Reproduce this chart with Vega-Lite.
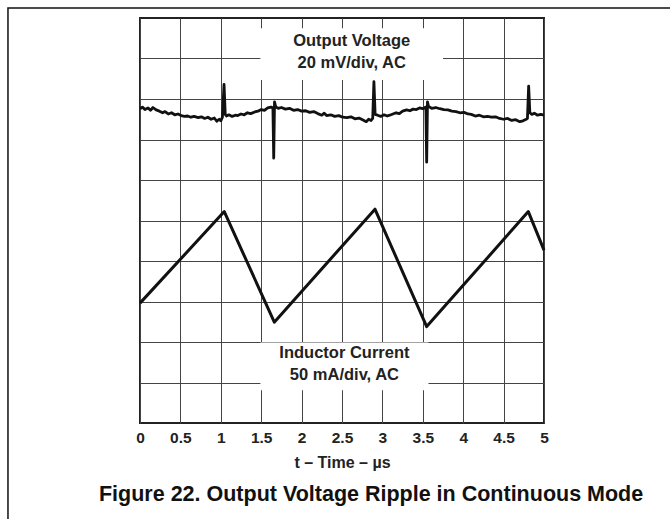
{
  "$schema": "https://vega.github.io/schema/vega-lite/v6.json",
  "width": 404,
  "height": 405,
  "autosize": {"type": "none"},
  "padding": {"left": 140, "top": 18, "right": 126, "bottom": 96},
  "background": "white",
  "config": {
    "font": "Liberation Sans",
    "view": {"stroke": "#222", "strokeWidth": 2}
  },
  "datasets": {
    "frame": [{"t": -1.634, "t2": 7, "v": 10.25, "v2": -3}],
    "caption": [{"t": 2.86, "v": -1.78, "label": "Figure 22. Output Voltage Ripple in Continuous Mode"}],
    "boxes": [
      {"t": 1.49, "t2": 3.75, "v": 8.47, "v2": 9.75},
      {"t": 1.49, "t2": 3.57, "v": 0.81, "v2": 1.99}
    ],
    "labels": [
      {"t": 2.62, "v": 9.43, "label": "Output Voltage"},
      {"t": 2.62, "v": 8.9, "label": "20 mV/div, AC"},
      {"t": 2.53, "v": 1.73, "label": "Inductor Current"},
      {"t": 2.53, "v": 1.19, "label": "50 mA/div, AC"}
    ],
    "voltage": [
      {"t": 0.0, "v": 7.76}, {"t": 0.03, "v": 7.8}, {"t": 0.06, "v": 7.74}, {"t": 0.1, "v": 7.78},
      {"t": 0.13, "v": 7.72}, {"t": 0.16, "v": 7.79}, {"t": 0.2, "v": 7.73}, {"t": 0.24, "v": 7.7},
      {"t": 0.28, "v": 7.66}, {"t": 0.31, "v": 7.69}, {"t": 0.35, "v": 7.63}, {"t": 0.39, "v": 7.66},
      {"t": 0.43, "v": 7.61}, {"t": 0.47, "v": 7.63}, {"t": 0.51, "v": 7.59}, {"t": 0.55, "v": 7.57},
      {"t": 0.59, "v": 7.58}, {"t": 0.63, "v": 7.55}, {"t": 0.67, "v": 7.57}, {"t": 0.72, "v": 7.54},
      {"t": 0.76, "v": 7.56}, {"t": 0.8, "v": 7.52}, {"t": 0.84, "v": 7.55}, {"t": 0.88, "v": 7.5},
      {"t": 0.92, "v": 7.53}, {"t": 0.95, "v": 7.45}, {"t": 0.98, "v": 7.5}, {"t": 1.0, "v": 7.46},
      {"t": 1.02, "v": 7.55}, {"t": 1.04, "v": 8.36}, {"t": 1.055, "v": 7.62}, {"t": 1.07, "v": 7.58},
      {"t": 1.1, "v": 7.61}, {"t": 1.14, "v": 7.57}, {"t": 1.18, "v": 7.6}, {"t": 1.21, "v": 7.59},
      {"t": 1.25, "v": 7.63}, {"t": 1.29, "v": 7.61}, {"t": 1.33, "v": 7.66}, {"t": 1.37, "v": 7.64},
      {"t": 1.42, "v": 7.68}, {"t": 1.46, "v": 7.7}, {"t": 1.5, "v": 7.74}, {"t": 1.54, "v": 7.72},
      {"t": 1.58, "v": 7.78}, {"t": 1.62, "v": 7.8}, {"t": 1.645, "v": 7.78}, {"t": 1.655, "v": 6.54},
      {"t": 1.665, "v": 7.93}, {"t": 1.68, "v": 7.8}, {"t": 1.71, "v": 7.77}, {"t": 1.75, "v": 7.79},
      {"t": 1.8, "v": 7.75}, {"t": 1.85, "v": 7.77}, {"t": 1.9, "v": 7.72}, {"t": 1.95, "v": 7.74},
      {"t": 2.0, "v": 7.7}, {"t": 2.05, "v": 7.71}, {"t": 2.1, "v": 7.67}, {"t": 2.15, "v": 7.69},
      {"t": 2.2, "v": 7.64}, {"t": 2.25, "v": 7.6}, {"t": 2.28, "v": 7.65}, {"t": 2.31, "v": 7.59},
      {"t": 2.36, "v": 7.61}, {"t": 2.41, "v": 7.57}, {"t": 2.46, "v": 7.59}, {"t": 2.51, "v": 7.55},
      {"t": 2.56, "v": 7.54}, {"t": 2.61, "v": 7.56}, {"t": 2.66, "v": 7.51}, {"t": 2.71, "v": 7.53},
      {"t": 2.76, "v": 7.48}, {"t": 2.8, "v": 7.44}, {"t": 2.83, "v": 7.5}, {"t": 2.86, "v": 7.47},
      {"t": 2.88, "v": 7.52}, {"t": 2.895, "v": 8.43}, {"t": 2.91, "v": 7.62}, {"t": 2.94, "v": 7.6},
      {"t": 2.98, "v": 7.57}, {"t": 3.02, "v": 7.61}, {"t": 3.06, "v": 7.58}, {"t": 3.09, "v": 7.6},
      {"t": 3.13, "v": 7.63}, {"t": 3.17, "v": 7.66}, {"t": 3.21, "v": 7.64}, {"t": 3.25, "v": 7.7},
      {"t": 3.3, "v": 7.73}, {"t": 3.34, "v": 7.71}, {"t": 3.38, "v": 7.75}, {"t": 3.42, "v": 7.74},
      {"t": 3.46, "v": 7.78}, {"t": 3.5, "v": 7.76}, {"t": 3.538, "v": 7.8}, {"t": 3.548, "v": 6.44},
      {"t": 3.558, "v": 7.93}, {"t": 3.57, "v": 7.82}, {"t": 3.61, "v": 7.77}, {"t": 3.66, "v": 7.79},
      {"t": 3.71, "v": 7.76}, {"t": 3.76, "v": 7.74}, {"t": 3.81, "v": 7.73}, {"t": 3.86, "v": 7.7},
      {"t": 3.91, "v": 7.69}, {"t": 3.96, "v": 7.66}, {"t": 4.01, "v": 7.67}, {"t": 4.06, "v": 7.63},
      {"t": 4.1, "v": 7.62}, {"t": 4.15, "v": 7.58}, {"t": 4.2, "v": 7.6}, {"t": 4.25, "v": 7.56},
      {"t": 4.3, "v": 7.57}, {"t": 4.35, "v": 7.55}, {"t": 4.4, "v": 7.56}, {"t": 4.45, "v": 7.52},
      {"t": 4.5, "v": 7.5}, {"t": 4.55, "v": 7.52}, {"t": 4.6, "v": 7.47}, {"t": 4.65, "v": 7.49},
      {"t": 4.7, "v": 7.44}, {"t": 4.74, "v": 7.46}, {"t": 4.78, "v": 7.5}, {"t": 4.795, "v": 7.52},
      {"t": 4.81, "v": 8.32}, {"t": 4.825, "v": 7.66}, {"t": 4.85, "v": 7.62}, {"t": 4.88, "v": 7.65},
      {"t": 4.92, "v": 7.6}, {"t": 4.96, "v": 7.62}, {"t": 5.0, "v": 7.6}
    ],
    "current": [
      {"t": 0.0, "v": 2.96},
      {"t": 1.043, "v": 5.22},
      {"t": 1.662, "v": 2.49},
      {"t": 2.908, "v": 5.28},
      {"t": 3.548, "v": 2.38},
      {"t": 4.806, "v": 5.22},
      {"t": 5.0, "v": 4.27}
    ]
  },
  "encoding": {
    "x": {
      "field": "t",
      "type": "quantitative",
      "scale": {"domain": [0, 5], "nice": false, "zero": false},
      "axis": {
        "values": [0, 0.5, 1, 1.5, 2, 2.5, 3, 3.5, 4, 4.5, 5],
        "labelExpr": "'' + datum.value",
        "grid": true,
        "gridColor": "#444",
        "gridWidth": 1,
        "gridOpacity": 1,
        "ticks": false,
        "tickSize": 0,
        "domain": false,
        "labelPadding": 7,
        "labelFont": "Liberation Sans",
        "labelFontSize": 15.5,
        "labelFontWeight": "bold",
        "labelColor": "#222",
        "labelFlush": false,
        "title": "t – Time – µs",
        "titleFont": "Liberation Sans",
        "titleFontSize": 16,
        "titleFontWeight": "bold",
        "titleColor": "#222",
        "titlePadding": 9
      }
    },
    "y": {
      "field": "v",
      "type": "quantitative",
      "scale": {"domain": [0, 10], "nice": false, "zero": false},
      "axis": {
        "values": [1, 2, 3, 4, 5, 6, 7, 8, 9],
        "grid": true,
        "gridColor": "#444",
        "gridWidth": 1,
        "gridOpacity": 1,
        "labels": false,
        "ticks": false,
        "domain": false,
        "title": null
      }
    }
  },
  "layer": [
    {
      "data": {"name": "frame"},
      "mark": {"type": "rect", "filled": false, "stroke": "#111", "strokeWidth": 1.5, "clip": false},
      "encoding": {"x2": {"field": "t2"}, "y2": {"field": "v2"}}
    },
    {
      "data": {"name": "boxes"},
      "mark": {"type": "rect", "fill": "white", "stroke": null},
      "encoding": {"x2": {"field": "t2"}, "y2": {"field": "v2"}}
    },
    {
      "data": {"name": "voltage"},
      "mark": {"type": "line", "color": "#111", "strokeWidth": 2.8, "strokeJoin": "round"}
    },
    {
      "data": {"name": "current"},
      "mark": {"type": "line", "color": "#111", "strokeWidth": 3, "strokeJoin": "round"}
    },
    {
      "data": {"name": "labels"},
      "mark": {"type": "text", "font": "Liberation Sans", "fontSize": 16.5, "fontWeight": "bold", "color": "#222", "baseline": "middle", "align": "center"},
      "encoding": {"text": {"field": "label"}}
    },
    {
      "data": {"name": "caption"},
      "mark": {"type": "text", "font": "Liberation Sans", "fontSize": 21.5, "fontWeight": "bold", "color": "#111", "baseline": "middle", "align": "center", "clip": false},
      "encoding": {"text": {"field": "label"}}
    }
  ]
}
